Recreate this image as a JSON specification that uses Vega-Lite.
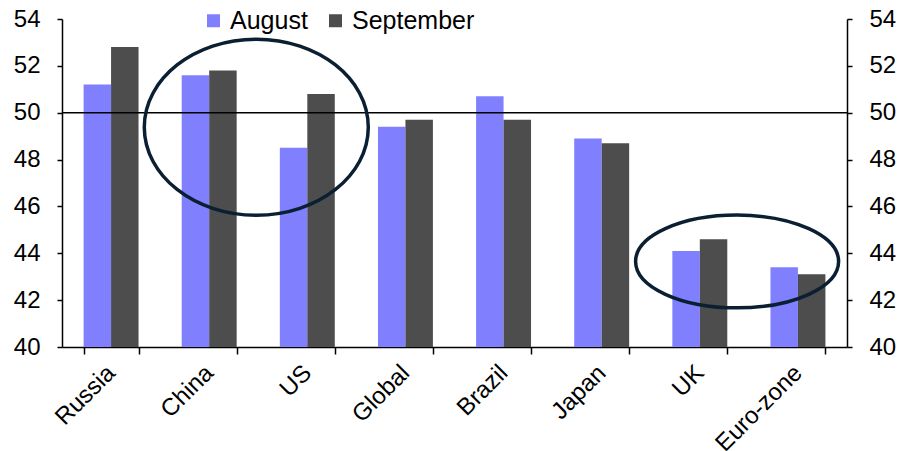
{
  "$schema": "https://vega.github.io/schema/vega-lite/v6.json",
  "width": 785,
  "height": 328,
  "autosize": {"type": "none"},
  "padding": {"left": 62, "top": 19, "right": 57, "bottom": 104},
  "background": "#ffffff",
  "config": {
    "font": "Liberation Sans",
    "view": {"stroke": null},
    "axis": {
      "grid": false,
      "title": null,
      "domainColor": "#000000",
      "domainWidth": 1.5,
      "tickColor": "#000000",
      "tickWidth": 1.5,
      "labelColor": "#000000",
      "labelFont": "Liberation Sans",
      "labelFontSize": 24
    }
  },
  "datasets": {
    "pmi": [
      {"country": "Russia", "month": "August", "value": 51.2},
      {"country": "Russia", "month": "September", "value": 52.8},
      {"country": "China", "month": "August", "value": 51.6},
      {"country": "China", "month": "September", "value": 51.8},
      {"country": "US", "month": "August", "value": 48.5},
      {"country": "US", "month": "September", "value": 50.8},
      {"country": "Global", "month": "August", "value": 49.4},
      {"country": "Global", "month": "September", "value": 49.7},
      {"country": "Brazil", "month": "August", "value": 50.7},
      {"country": "Brazil", "month": "September", "value": 49.7},
      {"country": "Japan", "month": "August", "value": 48.9},
      {"country": "Japan", "month": "September", "value": 48.7},
      {"country": "UK", "month": "August", "value": 44.1},
      {"country": "UK", "month": "September", "value": 44.6},
      {"country": "Euro-zone", "month": "August", "value": 43.4},
      {"country": "Euro-zone", "month": "September", "value": 43.1}
    ]
  },
  "layer": [
    {
      "data": {"name": "pmi"},
      "mark": {"type": "bar", "clip": true},
      "encoding": {
        "x": {
          "field": "country",
          "type": "nominal",
          "sort": ["Russia", "China", "US", "Global", "Brazil", "Japan", "UK", "Euro-zone"],
          "scale": {"paddingInner": 0.44, "paddingOuter": 0.22},
          "axis": {
            "labelAngle": -45,
            "labelAlign": "right",
            "labelBaseline": "middle",
            "labelPadding": 15,
            "tickSize": 7,
            "tickBand": "extent"
          }
        },
        "xOffset": {
          "field": "month",
          "type": "nominal",
          "sort": ["August", "September"],
          "scale": {"paddingInner": 0, "paddingOuter": 0}
        },
        "y": {
          "field": "value",
          "type": "quantitative",
          "scale": {"domain": [40, 54], "nice": false, "zero": false},
          "axis": {
            "orient": "left",
            "values": [40, 42, 44, 46, 48, 50, 52, 54],
            "tickSize": 5,
            "labelPadding": 17
          }
        },
        "color": {
          "field": "month",
          "type": "nominal",
          "scale": {"domain": ["August", "September"], "range": ["#8080FF", "#4D4D4D"]},
          "legend": {
            "orient": "none",
            "legendX": 139,
            "legendY": -11,
            "direction": "horizontal",
            "title": null,
            "padding": 0,
            "symbolType": "square",
            "symbolSize": 169,
            "symbolStrokeWidth": 0,
            "symbolOpacity": 1,
            "labelFont": "Liberation Sans",
            "labelFontSize": 25,
            "labelColor": "#000000",
            "labelOffset": 4,
            "columnPadding": 15
          }
        }
      }
    },
    {
      "data": {"values": [{"level": 50}]},
      "mark": {"type": "rule", "color": "#000000", "strokeWidth": 1.5},
      "encoding": {
        "y": {
          "field": "level",
          "type": "quantitative",
          "axis": {
            "orient": "right",
            "values": [40, 42, 44, 46, 48, 50, 52, 54],
            "tickSize": 5,
            "labelPadding": 17
          }
        }
      }
    },
    {
      "data": {"values": [{"pos": 1.98, "level": 49.38, "ring": "China and US"}]},
      "mark": {
        "type": "point",
        "shape": "M-1,0C-1,-0.434,-0.5523,-0.786,0,-0.786C0.5523,-0.786,1,-0.434,1,0C1,0.434,0.5523,0.786,0,0.786C-0.5523,0.786,-1,0.434,-1,0Z",
        "size": 50176,
        "filled": false,
        "color": "#0B1F33",
        "stroke": "#0B1F33",
        "strokeWidth": 3.5,
        "opacity": 1
      },
      "encoding": {
        "x": {"field": "pos", "type": "quantitative", "scale": {"domain": [0, 8], "nice": false, "zero": false}, "axis": null},
        "y": {"field": "level", "type": "quantitative", "axis": null}
      }
    },
    {
      "data": {"values": [{"pos": 6.88, "level": 43.65, "ring": "UK and Euro-zone"}]},
      "mark": {
        "type": "point",
        "shape": "M-1,0C-1,-0.2525,-0.5523,-0.457,0,-0.457C0.5523,-0.457,1,-0.2525,1,0C1,0.2525,0.5523,0.457,0,0.457C-0.5523,0.457,-1,0.2525,-1,0Z",
        "size": 41209,
        "filled": false,
        "color": "#0B1F33",
        "stroke": "#0B1F33",
        "strokeWidth": 3.5,
        "opacity": 1
      },
      "encoding": {
        "x": {"field": "pos", "type": "quantitative", "scale": {"domain": [0, 8], "nice": false, "zero": false}, "axis": null},
        "y": {"field": "level", "type": "quantitative", "axis": null}
      }
    }
  ],
  "resolve": {
    "scale": {"x": "independent"},
    "axis": {"x": "independent", "y": "independent"}
  }
}
